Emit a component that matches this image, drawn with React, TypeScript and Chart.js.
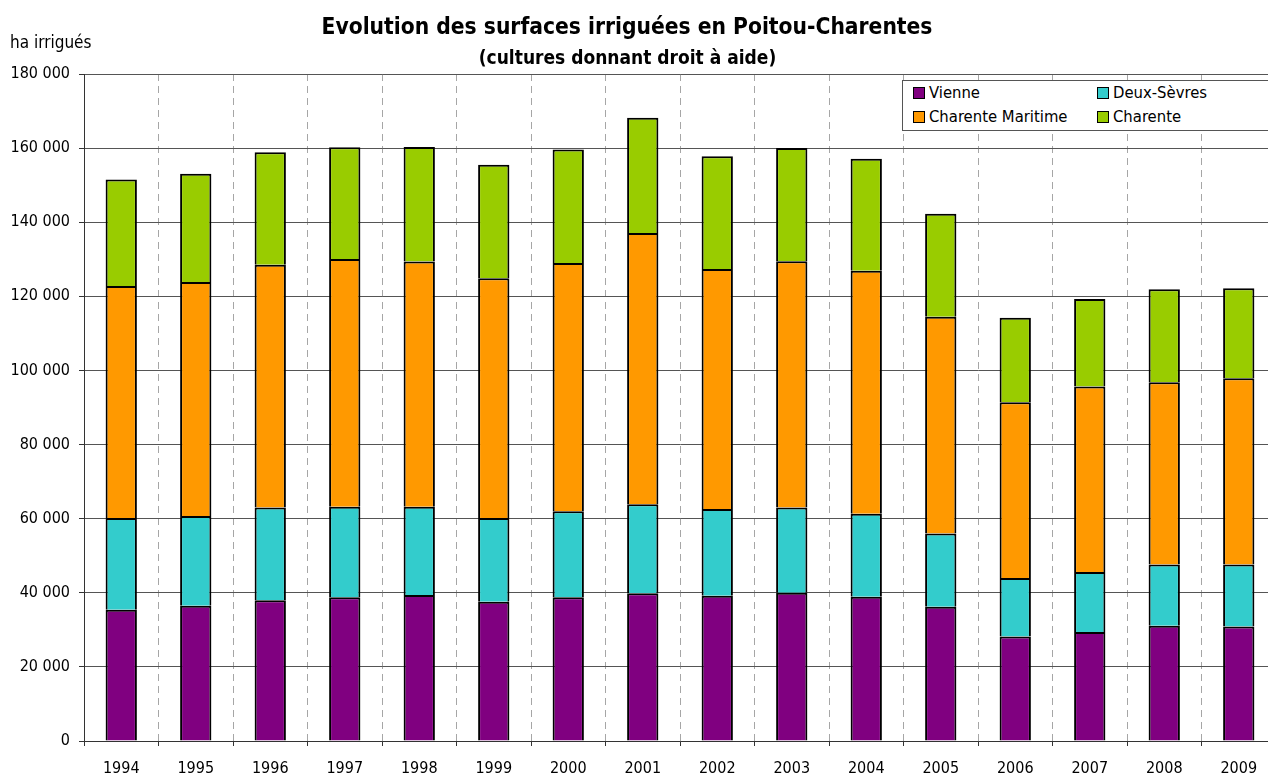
import React, { useEffect, useRef } from 'react';
import { Chart, registerables } from 'chart.js';

Chart.register(...registerables);

const years = ['1994', '1995', '1996', '1997', '1998', '1999', '2000', '2001', '2002', '2003', '2004', '2005', '2006', '2007', '2008', '2009'];
const vienne = [35400, 36500, 38000, 38800, 39400, 37600, 38800, 39900, 39200, 40000, 38900, 36200, 28200, 29400, 31100, 30900];
const deuxSevres = [24800, 24200, 25000, 24400, 23800, 22600, 23200, 24000, 23400, 23000, 22400, 19800, 15800, 16200, 16500, 16700];
const charenteMaritime = [62600, 63200, 65500, 66900, 66200, 64700, 67000, 73200, 64800, 66500, 65600, 58500, 47400, 50100, 49200, 50300];
const charente = [28700, 29200, 30400, 30100, 30900, 30600, 30600, 31100, 30400, 30500, 30200, 27800, 22800, 23600, 25100, 24300];

const seriesNames = ['Vienne', 'Deux-Sèvres', 'Charente Maritime', 'Charente'];
const seriesColors = ['#800080', '#33CCCC', '#FF9900', '#99CC00'];

const titleText = 'Evolution des surfaces irriguées en Poitou-Charentes';
const subtitleText = '(cultures donnant droit à aide)';
const yAxisLabel = 'ha irrigués';
const yMin = 0;
const yMax = 180000;
const yStep = 20000;

const FONT = "'DejaVu Sans Condensed', 'DejaVu Sans', sans-serif";

function fmt(v: number): string {
  return String(v).replace(/\B(?=(\d{3})+(?!\d))/g, ' ');
}

export default function App() {
  const ref = useRef<HTMLCanvasElement>(null);

  useEffect(() => {
    if (!ref.current) return;
    const values = [vienne, deuxSevres, charenteMaritime, charente];
    const chart = new Chart(ref.current, {
      type: 'bar',
      data: {
        labels: years,
        datasets: values.map((d, i) => ({
          label: seriesNames[i],
          data: d,
          backgroundColor: seriesColors[i],
          borderColor: '#000000',
          borderWidth: 2,
          borderSkipped: 'start',
          categoryPercentage: 1,
          barPercentage: 0.42,
        })),
      },
      options: {
        animation: false,
        responsive: false,
        layout: { padding: { top: 74, right: 4, left: 0, bottom: 0 } },
        plugins: {
          legend: { display: false },
          title: { display: false },
          tooltip: { enabled: false },
        },
        scales: {
          x: {
            stacked: true,
            offset: true,
            grid: {
              offset: true,
              color: '#a6a6a6',
              lineWidth: 1,
              tickLength: 5,
              tickColor: '#333333',
              drawOnChartArea: true,
            },
            border: { display: true, color: '#333333', width: 1, dash: [7, 5] },
            ticks: {
              color: '#000000',
              font: { family: FONT, size: 16 },
              padding: 13,
              maxRotation: 0,
              autoSkip: false,
            },
            afterFit: (scale: any) => {
              scale.height = 37;
            },
          },
          y: {
            stacked: true,
            min: yMin,
            max: yMax,
            grid: {
              color: '#555555',
              lineWidth: 1,
              tickLength: 5,
              tickColor: '#333333',
            },
            border: { display: true, color: '#333333', width: 1 },
            ticks: {
              stepSize: yStep,
              color: '#000000',
              font: { family: FONT, size: 16 },
              padding: 9,
              callback: (v: any) => fmt(Number(v)),
            },
            afterFit: (scale: any) => {
              scale.width = 84;
            },
          },
        },
      },
    });
    return () => chart.destroy();
  }, []);

  const legendItems = seriesNames.map((name, i) => ({ name, color: seriesColors[i] }));
  const legendPos = [
    { left: 913, top: 86 },
    { left: 1097, top: 86 },
    { left: 913, top: 110 },
    { left: 1097, top: 110 },
  ];

  return (
    <div style={{ position: 'fixed', left: 0, top: 0, width: 1268, height: 778, overflow: 'hidden', background: '#ffffff', fontFamily: FONT }}>
      <canvas ref={ref} width={1280} height={778} style={{ position: 'absolute', left: 0, top: 0, width: 1280, height: 778 }} />
      <div style={{ position: 'absolute', left: 0, width: 1254, top: 12, textAlign: 'center', fontWeight: 'bold', fontSize: 22.6, lineHeight: '28px', color: '#000' }}>{titleText}</div>
      <div style={{ position: 'absolute', left: 0, width: 1255, top: 45, textAlign: 'center', fontWeight: 'bold', fontSize: 19, lineHeight: '24px', color: '#000' }}>{subtitleText}</div>
      <div style={{ position: 'absolute', left: 10, top: 31, fontSize: 17, lineHeight: '22px', color: '#000' }}>{yAxisLabel}</div>
      <div style={{ position: 'absolute', left: 902, top: 80, width: 380, height: 51, border: '1px solid #555', background: '#fff', boxSizing: 'border-box' }} />
      {legendItems.map((it, i) => (
        <div key={it.name} style={{ position: 'absolute', left: legendPos[i].left, top: legendPos[i].top, height: 14, display: 'flex', alignItems: 'center', whiteSpace: 'nowrap' }}>
          <span style={{ display: 'inline-block', width: 10, height: 10, background: it.color, border: '1px solid #000', marginRight: 4 }} />
          <span style={{ fontSize: 16.5, lineHeight: '14px', color: '#000' }}>{it.name}</span>
        </div>
      ))}
    </div>
  );
}
